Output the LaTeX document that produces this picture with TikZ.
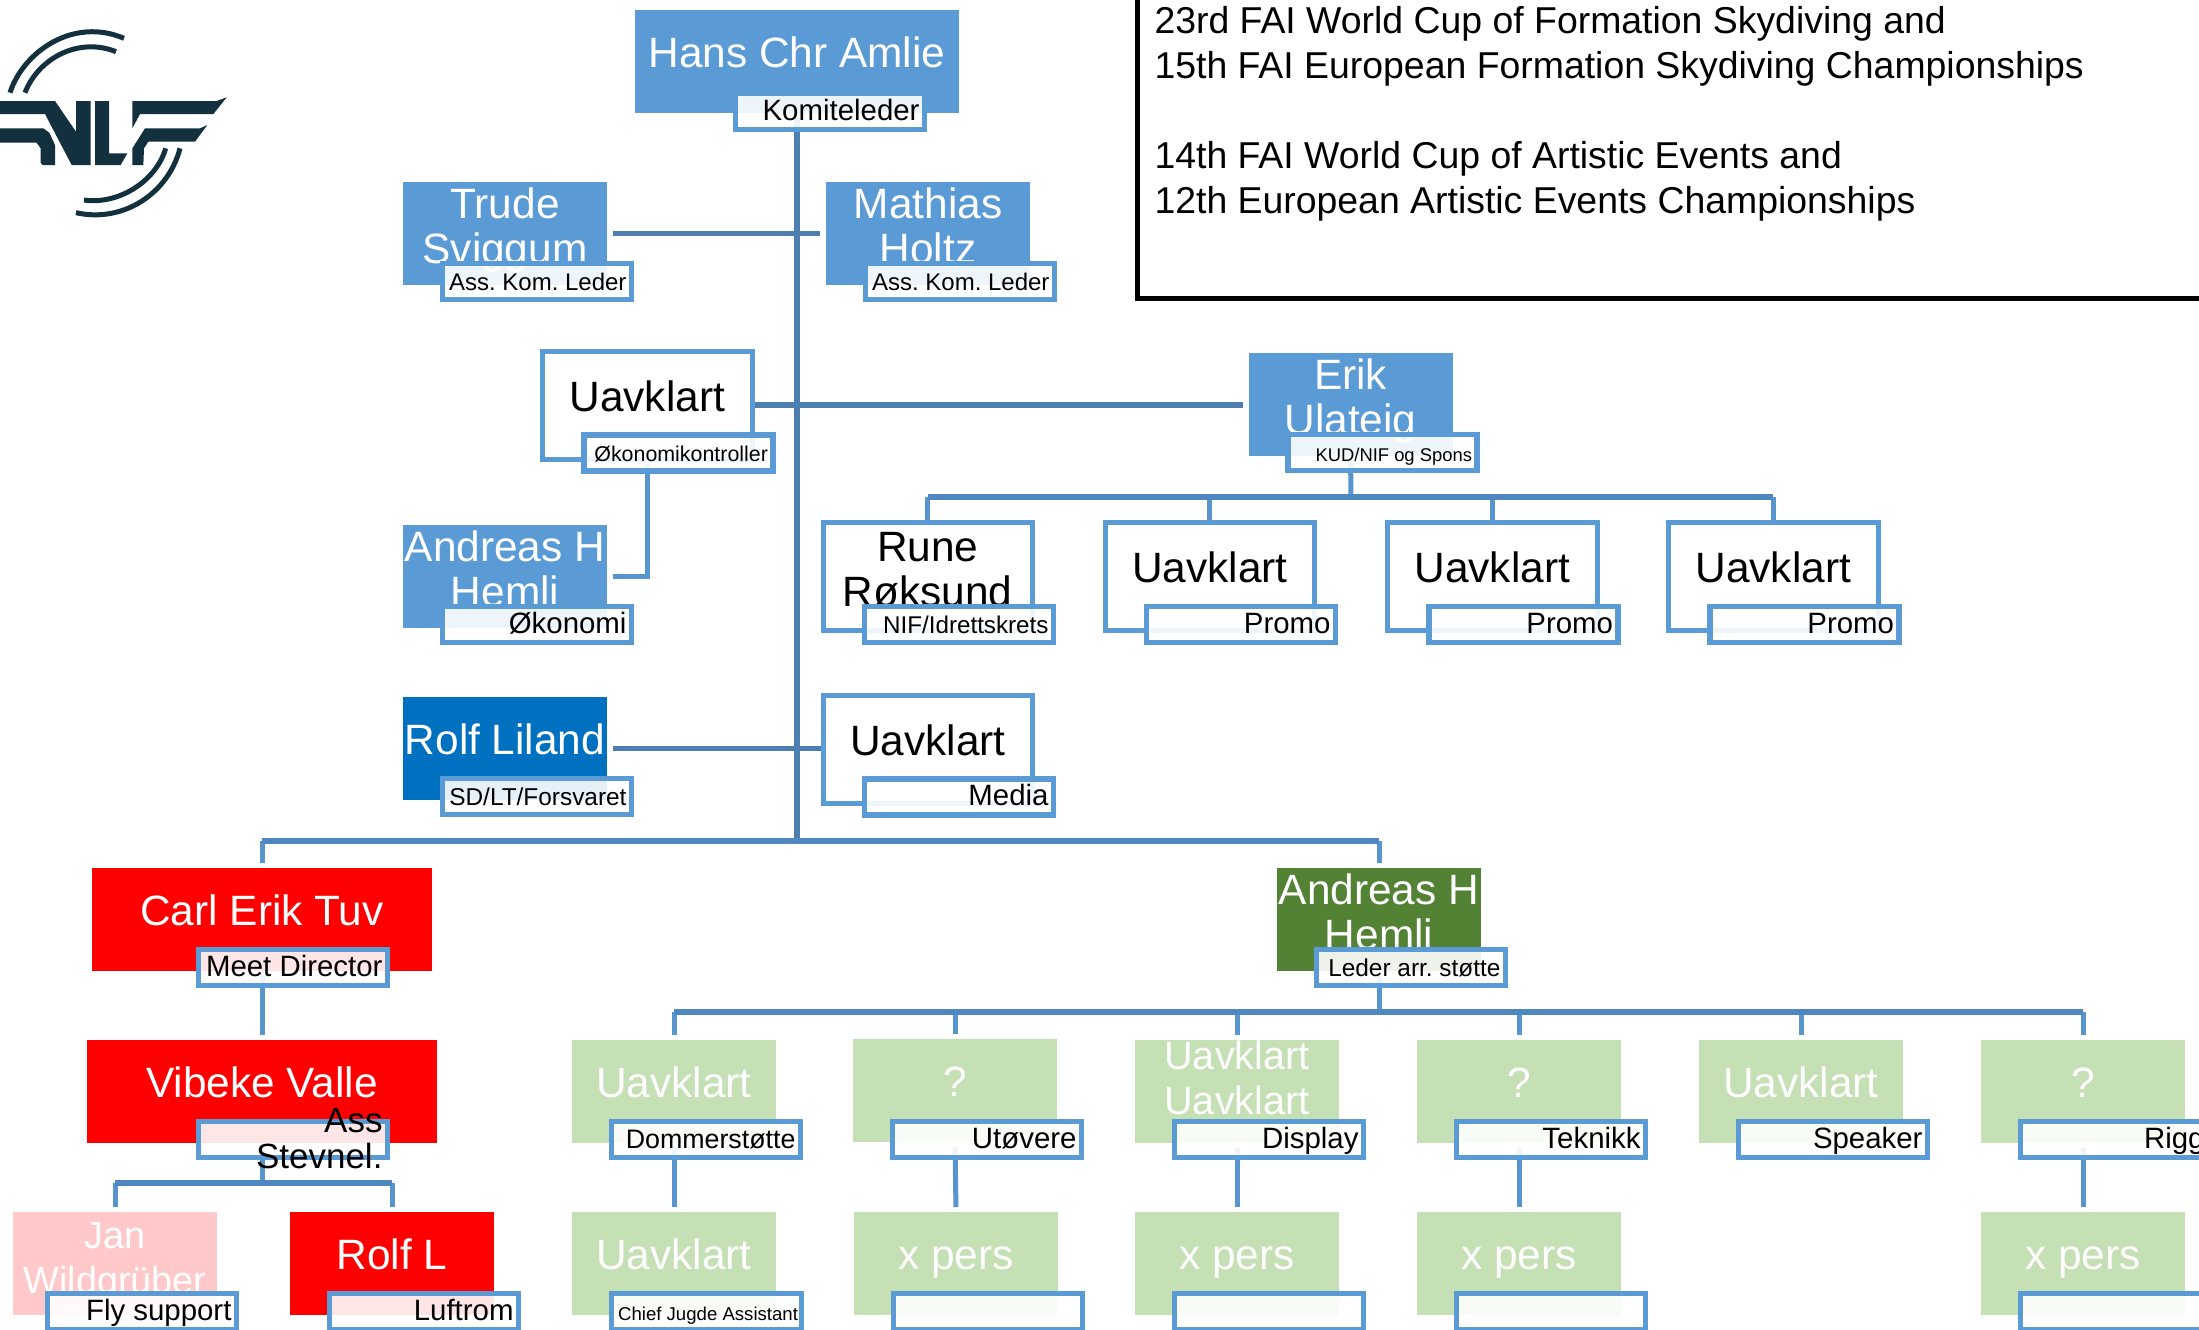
\documentclass[tikz,border=0pt]{standalone}
\usepackage{fontspec}
\setmainfont{Liberation Sans}
\frenchspacing
\usetikzlibrary{positioning, backgrounds}
\newcommand{\boxfont}[2]{\fontsize{#1}{#2}\selectfont}
\definecolor{colorBox}{RGB}{91, 155, 213}
\definecolor{colorBlue}{RGB}{0, 112, 192}
\definecolor{colorRed}{RGB}{255, 0, 0}
\definecolor{colorPink}{RGB}{255, 201, 201}
\definecolor{colorGreen}{RGB}{84, 130, 53}
\definecolor{colorPale}{RGB}{197, 224, 180}
\definecolor{colorStub}{RGB}{88, 148, 206}
\definecolor{colorBar}{RGB}{79, 136, 192}
\definecolor{colorTrunk}{RGB}{76, 126, 175}
\definecolor{colorLogo}{RGB}{18, 48, 62}
\tikzstyle{person}=[rectangle, anchor=north west, outer sep=0pt, inner sep=0pt, text width=102pt, minimum height=51.5pt, align=flush center, text=white, text height=15pt, text depth=9pt, font=\boxfont{21.2}{22.5}]
\tikzstyle{two}=[text depth=30.5pt]
\tikzstyle{open}=[person, draw=colorBox, line width=2.5pt, fill=white, text=black, text width=104.75pt, minimum height=54pt]
\tikzstyle{lbl}=[rectangle, anchor=north west, outer sep=0pt, draw=colorBox, line width=2.7pt, fill=white, fill opacity=0.9, text opacity=1, draw opacity=1, inner xsep=2.5pt, inner ysep=0pt, text width=89.5pt, minimum height=18pt, align=flush right, text=black, text height=10.5pt, text depth=2pt, xshift=19.75pt, yshift=10.75pt, font=\boxfont{14.7}{17.5}]
\tikzstyle{lblOpen}=[lbl, xshift=1pt, yshift=1.25pt]
\tikzstyle{link}=[line width=2.5pt, draw=colorStub]
\tikzstyle{bar}=[line width=2.7pt, draw=colorBar]
\tikzstyle{trunk}=[line width=2.7pt, draw=colorTrunk]
\tikzstyle{gap}=[shorten <=2.5pt, shorten >=2.5pt]
\tikzstyle{side}=[shorten <=3pt, shorten >=3pt]
\tikzstyle{arc}=[line width=2.5pt, draw=colorLogo]

\begin{document}
\begin{tikzpicture}[x=0.5pt, y=-0.5pt]
	\useasboundingbox (0,0) rectangle (2199,1329);

	% logo
	\begin{scope}[shift={(0,20)}, x=0.16667pt, y=-0.16667pt]
		\fill[colorLogo] (0,243) -- (165,243) -- (228,335) -- (228,243) -- (272,243) -- (272,435) -- (215,435) -- (135,282) -- (0,282) -- cycle;
		\fill[colorLogo] (0,325) -- (130,325) -- (148,338) -- (165,375) -- (165,435) -- (128,435) -- (122,428) -- (122,385) -- (110,368) -- (0,368) -- cycle;
		\fill[colorLogo] (285,243) -- (327,243) -- (327,400) -- (382,400) -- (362,435) -- (285,435) -- cycle;
		\fill[colorLogo] (397,243) -- (650,243) -- (680,232) -- (640,282) -- (420,282) -- (397,325) -- cycle;
		\fill[colorLogo] (435,325) -- (600,325) -- (622,315) -- (585,365) -- (445,365) -- (432,385) -- (430,435) -- (397,435) -- (397,385) -- cycle;
		\draw[arc] (30,218) .. controls (70,95) and (220,-10) .. (372,55);
		\draw[arc] (75,218) .. controls (115,115) and (235,50) .. (348,95);
		\draw[arc] (497,385) .. controls (470,480) and (360,555) .. (252,540);
		\draw[arc] (540,385) .. controls (505,520) and (370,610) .. (228,578);
	\end{scope}

	% title
	\node (title)[rectangle, anchor=south west, outer sep=0pt, draw=black, line width=2.5pt, inner xsep=8.5pt, inner ysep=0pt, text width=600pt, minimum height=199pt, align=flush left, text height=10pt, text depth=75.5pt, font=\boxfont{18.7}{22.5}] at (1137.5,298) {23rd FAI World Cup of Formation Skydiving and \\ 15th FAI European Formation Skydiving Championships \\[22.5pt] 14th FAI World Cup of Artistic Events and \\ 12th European Artistic Events Championships};

	% committee
	\node (pHans)[person, fill=colorBox, text width=162pt] at (635,10) {Hans Chr Amlie};
	\node (lHans)[lbl, xshift=-50.5pt, yshift=-1pt] at (pHans.south) {Komiteleder};
	\node (pTrude)[person, two, fill=colorBox] at (403,182) {Trude \\ Sviggum};
	\node (lTrude)[lbl, font=\boxfont{12}{14}] at (pTrude.south west) {Ass. Kom. Leder};
	\node (pMathias)[person, two, fill=colorBox] at (826,182) {Mathias \\ Holtz};
	\node (lMathias)[lbl, font=\boxfont{12}{14}] at (pMathias.south west) {Ass. Kom. Leder};
	\node (pEco)[open] at (542.5,351) {Uavklart};
	\node (lEco)[lblOpen, font=\boxfont{10.7}{13}] at (pEco.south west) {Økonomikontroller};
	\node (pErik)[person, two, fill=colorBox] at (1248.5,353) {Erik \\ Ulateig};
	\node (lErik)[lbl, font=\boxfont{9.2}{11}] at (pErik.south west) {KUD/NIF og Spons};
	\node (pEconomy)[person, two, fill=colorBox] at (403,525) {Andreas H \\ Hemli};
	\node (lEconomy)[lbl] at (pEconomy.south west) {Økonomi};
	\node (pRune)[open, two] at (823,522.5) {Rune \\ Røksund};
	\node (lRune)[lblOpen, font=\boxfont{12.1}{14}] at (pRune.south west) {NIF/Idrettskrets};
	\node (pPromoA)[open] at (1105,522.5) {Uavklart};
	\node (lPromoA)[lblOpen] at (pPromoA.south west) {Promo};
	\node (pPromoB)[open] at (1387.5,522.5) {Uavklart};
	\node (lPromoB)[lblOpen] at (pPromoB.south west) {Promo};
	\node (pPromoC)[open] at (1668.5,522.5) {Uavklart};
	\node (lPromoC)[lblOpen] at (pPromoC.south west) {Promo};
	\node (pLiland)[person, fill=colorBlue] at (403,697) {Rolf Liland};
	\node (lLiland)[lbl, font=\boxfont{12.2}{14}] at (pLiland.south west) {SD/LT/Forsvaret};
	\node (pMedia)[open] at (823,695) {Uavklart};
	\node (lMedia)[lblOpen] at (pMedia.south west) {Media};

	% meet
	\node (pCarl)[person, fill=colorRed, text width=170pt] at (92,868) {Carl Erik Tuv};
	\node (lCarl)[lbl, xshift=33.5pt] at (pCarl.south west) {Meet Director};
	\node (pVibeke)[person, fill=colorRed, text width=175pt] at (87,1040) {Vibeke Valle};
	\node (lVibeke)[lbl, xshift=36pt, text height=5pt, text depth=12pt, font=\boxfont{17.5}{18}] at (pVibeke.south west) {Ass \\ Stevnel.};
	\node (pJan)[person, two, fill=colorPink, font=\boxfont{18.9}{22.5}] at (13,1212) {Jan \\ Wildgrüber};
	\node (lJan)[lbl, xshift=-2.5pt] at (pJan.south west) {Fly support};
	\node (pRolf)[person, fill=colorRed] at (290,1212) {Rolf L};
	\node (lRolf)[lbl] at (pRolf.south west) {Luftrom};

	% support
	\node (pSupport)[person, two, fill=colorGreen] at (1277,868) {Andreas H \\ Hemli};
	\node (lSupport)[lbl, font=\boxfont{12.2}{15}] at (pSupport.south west) {Leder arr. støtte};
	\node (pJudge)[person, fill=colorPale] at (572,1040) {Uavklart};
	\node (lJudge)[lbl, font=\boxfont{13.4}{16}] at (pJudge.south west) {Dommerstøtte};
	\node (pAthlete)[person, fill=colorPale] at (853,1039) {?};
	\node (lAthlete)[lbl, yshift=-0.5pt] at (pAthlete.south west) {Utøvere};
	\node (pDisplay)[person, fill=colorPale, text height=13pt, text depth=34.8pt, font=\boxfont{19.8}{22.5}] at (1135,1040) {Uavklart \\ Uavklart};
	\node (lDisplay)[lbl] at (pDisplay.south west) {Display};
	\node (pTech)[person, fill=colorPale] at (1417,1040) {?};
	\node (lTech)[lbl] at (pTech.south west) {Teknikk};
	\node (pSpeaker)[person, fill=colorPale] at (1699,1040) {Uavklart};
	\node (lSpeaker)[lbl] at (pSpeaker.south west) {Speaker};
	\node (pRigg)[person, fill=colorPale] at (1981,1040) {?};
	\node (lRigg)[lbl] at (pRigg.south west) {Rigg};
	\node (pChief)[person, fill=colorPale] at (572,1212) {Uavklart};
	\node (lChief)[lbl, text width=91.5pt, inner xsep=1.75pt, font=\boxfont{9.3}{11}] at (pChief.south west) {Chief Jugde Assistant};
	\node (pAthleteN)[person, fill=colorPale] at (854,1212) {x pers};
	\node (lAthleteN)[lbl] at (pAthleteN.south west) {};
	\node (pDisplayN)[person, fill=colorPale] at (1135,1212) {x pers};
	\node (lDisplayN)[lbl] at (pDisplayN.south west) {};
	\node (pTechN)[person, fill=colorPale] at (1417,1212) {x pers};
	\node (lTechN)[lbl] at (pTechN.south west) {};
	\node (pRiggN)[person, fill=colorPale] at (1981,1212) {x pers};
	\node (lRiggN)[lbl] at (pRiggN.south west) {};

	% lines
	\coordinate (barMain) at (797,841);
	\coordinate (barErik) at (1351,497);
	\coordinate (barVibeke) at (262,1183);
	\coordinate (barSupport) at (1379,1012);

	\begin{scope}[on background layer]
		\draw[trunk, shorten <=2.5pt] (pHans.south) -- (barMain);
		\draw[trunk, side] (pTrude.east) -- (pMathias.west);
		\draw[trunk, shorten >=3pt] (pEco.east) -- (pEco.east -| pErik.west);
		\draw[link, shorten <=2.5pt, shorten >=3pt] (pEco.south) |- (pEconomy.east);
		\draw[trunk, shorten <=3pt] (pLiland.east) -- (pLiland.east -| pMedia.west);

		\draw[link, shorten <=2.5pt] (pErik.south) -- (barErik);
		\draw[link] (pRune.north |- barErik) -- (pRune.north);
		\draw[link] (pPromoA.north |- barErik) -- (pPromoA.north);
		\draw[link] (pPromoB.north |- barErik) -- (pPromoB.north);
		\draw[link] (pPromoC.north |- barErik) -- (pPromoC.north);
		\draw[bar] (pRune.north |- barErik) -- (pPromoC.north |- barErik);

		\draw[link, shorten >=2.5pt] (pCarl.north |- barMain) -- (pCarl.north);
		\draw[link, shorten >=2.5pt] (pSupport.north |- barMain) -- (pSupport.north);
		\draw[bar] (pCarl.north |- barMain) -- (pSupport.north |- barMain);

		\draw[link, gap] (pCarl.south) -- (pVibeke.north);
		\draw[link, shorten <=2.5pt] (pVibeke.south) -- (barVibeke);
		\draw[link, shorten >=2.5pt] (pJan.north |- barVibeke) -- (pJan.north);
		\draw[link, shorten >=2.5pt] (pRolf.north |- barVibeke) -- (pRolf.north);
		\draw[bar] (pJan.north |- barVibeke) -- (pRolf.north |- barVibeke);

		\draw[link, shorten <=2.5pt] (pSupport.south) -- (barSupport);
		\draw[link, shorten >=2.5pt] (pJudge.north |- barSupport) -- (pJudge.north);
		\draw[link, shorten >=2.5pt] (pAthlete.north |- barSupport) -- (pAthlete.north);
		\draw[link, shorten >=2.5pt] (pDisplay.north |- barSupport) -- (pDisplay.north);
		\draw[link, shorten >=2.5pt] (pTech.north |- barSupport) -- (pTech.north);
		\draw[link, shorten >=2.5pt] (pSpeaker.north |- barSupport) -- (pSpeaker.north);
		\draw[link, shorten >=2.5pt] (pRigg.north |- barSupport) -- (pRigg.north);
		\draw[bar] (pJudge.north |- barSupport) -- (pRigg.north |- barSupport);

		\draw[link, gap] (pJudge.south) -- (pChief.north);
		\draw[link, gap] (pAthlete.south) -- (pAthleteN.north);
		\draw[link, gap] (pDisplay.south) -- (pDisplayN.north);
		\draw[link, gap] (pTech.south) -- (pTechN.north);
		\draw[link, gap] (pRigg.south) -- (pRiggN.north);
	\end{scope}

\end{tikzpicture}
\end{document}
